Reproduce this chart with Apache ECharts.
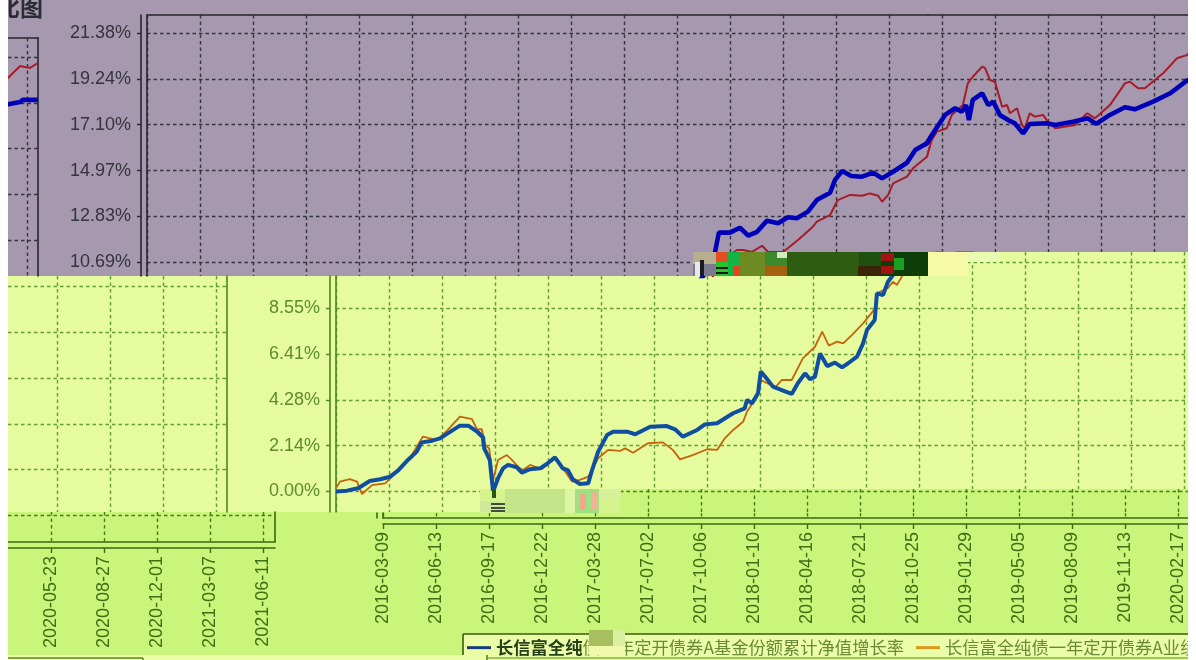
<!DOCTYPE html>
<html><head><meta charset="utf-8">
<style>html,body{margin:0;padding:0;background:#fff}#c{width:1196px;height:660px}</style>
<script src="https://cdn.jsdelivr.net/npm/echarts@6/dist/echarts.min.js"></script>
</head><body><div id="c"></div>
<script>
const netName = '长信富全纯债一年定开债券A基金份额累计净值增长率';
const benchName = '长信富全纯债一年定开债券A业绩比较基准累计收益率';
const tickLabels = ['2016-03-09','2016-06-13','2016-09-17','2016-12-22','2017-03-28','2017-07-02','2017-10-06','2018-01-10','2018-04-16','2018-07-21','2018-10-25','2019-01-29','2019-05-05','2019-08-09','2019-11-13','2020-02-17','2020-05-23','2020-08-27','2020-12-01','2021-03-07','2021-06-11'];
const yTicks = [0,2.138,4.276,6.414,8.552,10.69,12.828,14.966,17.104,19.242,21.38];
const netDays = [0,20,40,61,80,98,112,130,146,155,174,188,202,224,239,255,266,268,278,284,293,302,311,327,336,351,369,381,396,410,419,428,441,456,463,474,490,501,526,541,568,598,613,627,653,667,689,718,739,743,752,763,768,776,790,806,824,835,848,857,866,875,888,902,915,926,942,953,960,974,978,989,998,1023,1034,1054,1072,1087,1103,1121,1141,1159,1175,1195,1211,1235,1244,1257,1273,1293,1313,1329,1349,1374,1389,1410,1425,1443,1461,1473,1481,1486,1493,1510,1521,1530,1542,1557,1569,1584,1596,1627,1642,1674,1701,1716,1741,1768,1786,1819,1850,1880,1904,1909,1936];
const netRate = [0,.04,.15,.49,.57,.69,.97,1.47,1.86,2.29,2.37,2.48,2.71,3.07,3.07,2.79,2.53,2.01,1.47,0,.62,1.08,1.24,1.13,.88,1.04,1.08,1.28,1.59,1.08,1,.57,.35,.38,1,1.86,2.63,2.79,2.79,2.67,3.02,3.05,2.9,2.56,2.87,3.13,3.18,3.65,3.88,4.27,4.11,4.58,5.59,5.35,4.89,4.73,4.55,5.05,5.51,5.23,5.35,6.44,5.85,6.01,5.79,5.98,6.29,6.91,7.53,8,9.24,9.16,9.78,10.65,12.07,12.07,12.3,11.93,12.11,12.63,12.51,12.79,12.74,13.05,13.59,13.93,14.53,14.95,14.71,14.68,14.87,14.6,14.91,15.33,15.92,16.24,16.86,17.56,17.87,17.71,18.02,17.32,18.26,18.57,18.02,18.18,17.56,17.32,17.17,16.7,17.14,17.17,17.09,17.24,17.4,17.14,17.56,17.92,17.82,18.18,18.57,19.16,19.28,19.38,19.38];
const benchDays = [0,7,25,38,47,65,89,107,121,137,157,183,202,224,246,255,264,269,277,284,293,309,318,329,338,351,372,396,410,427,441,456,474,492,513,523,537,564,591,609,622,645,671,689,703,718,736,743,763,768,794,806,824,844,866,879,891,906,917,933,953,975,978,998,1007,1014,1023,1045,1067,1078,1094,1112,1123,1150,1177,1204,1211,1235,1249,1271,1293,1307,1322,1329,1340,1349,1374,1385,1410,1419,1428,1446,1455,1475,1484,1493,1510,1515,1524,1533,1546,1555,1560,1573,1582,1587,1596,1605,1620,1629,1642,1678,1700,1714,1741,1768,1777,1792,1804,1837,1862,1880,1904,1922,1936];
const benchRate = [.15,.46,.58,.46,-.12,.3,.38,.85,1.24,1.7,2.56,2.4,2.87,3.49,3.37,2.9,2.9,2.17,2.01,.54,1.47,1.7,1.47,1.16,1,1.24,1.03,1.59,1.08,.46,.54,.69,1.55,1.94,1.89,2.01,1.81,2.25,2.29,1.94,1.5,1.7,1.97,1.94,2.48,2.87,3.25,3.72,4.5,5.2,4.86,5.2,5.2,6.21,6.75,7.45,6.8,6.99,6.91,7.3,7.84,8.54,9.24,9.49,9.78,9.63,10.02,10.9,11.26,11.26,11.17,11.46,11.17,11.17,11.73,12.35,12.58,12.89,13.59,13.83,13.79,13.9,13.79,13.51,13.83,14.37,14.68,15.07,15.61,16.39,16.78,16.94,17.56,18.02,19.03,19.34,19.81,19.75,19.19,19.11,17.94,18.02,17.64,17.87,17.09,16.95,17.64,17.48,17.56,17.24,16.94,17.09,17.64,17.4,18.02,19.03,19.11,18.8,18.8,19.5,20.2,20.35,20.96,20.87,21.1];

const pxPerDay = 0.5531, tickStep = 53 / pxPerDay, pxPerPct = 21.445, zeroY = 491.5;
const FONT = '"Liberation Sans",Arial,sans-serif';
const STY = {
  P:{grid:'#34343c',axis:'#26262c',text:'#34343c',net:'#0000b8',netW:4.6,bench:'#a81a28',benchW:2},
  Y:{grid:'#659e36',axis:'#4f8222',text:'#5c8c2e',net:'#104ea2',netW:4,bench:'#c8620c',benchW:1.8},
  G:{grid:'#4a7d18',axis:'#3c6a10',text:'#3f6e14',net:'#104ea2',netW:4,bench:'#c8620c',benchW:1.8}
};
const grids=[],xAxes=[],yAxes=[],series=[];
const zip=(a,b)=>a.map((v,i)=>[v,b[i]]);
function lineOnly(extra,color){return Object.assign({axisLine:{show:true,onZero:false,lineStyle:{color,width:1.6}},axisTick:{show:false},axisLabel:{show:false},splitLine:{show:false}},extra);}
function pane(o){
  const s=STY[o.s],g=grids.length,dy=o.dy||0;
  grids.push({left:o.x0,top:o.y0,width:o.x1-o.x0,height:o.y1-o.y0,show:false});
  const xmin=(o.x0-o.L)/pxPerDay,xmax=(o.x1-o.L)/pxPerDay;
  const ymax=(zeroY+dy-o.y0)/pxPerPct,ymin=(zeroY+dy-o.y1)/pxPerPct;
  const xv=tickLabels.map((_,i)=>i*tickStep).filter(v=>v>=xmin-0.01&&v<=xmax+0.01);
  const yv=yTicks.filter(v=>v>=ymin&&v<=ymax);
  const dash={type:[3.5,3],width:1.4,color:s.grid};
  const xa=[{gridIndex:g,type:'value',min:xmin,max:xmax,position:'bottom',offset:o.xLabels?6:0,
    axisLine:{show:!!o.xLabels,onZero:false,lineStyle:{color:s.axis,width:1.6}},
    axisTick:{show:!!o.xLabels,length:5,inside:false,customValues:xv,lineStyle:{color:s.axis,width:1.4}},
    axisLabel:{show:!!o.xLabels,customValues:xv,rotate:90,margin:8,fontSize:18,fontFamily:FONT,color:s.text,hideOverlap:false,
      formatter:v=>tickLabels[Math.round(v/tickStep)]},
    splitLine:{show:xv.length>0,lineStyle:dash}}];
  const ya=[{gridIndex:g,type:'value',min:ymin,max:ymax,position:'left',offset:o.axis?6:0,
    axisLine:{show:!!o.axis,onZero:false,lineStyle:{color:s.axis,width:1.6}},
    axisTick:{show:!!o.axis&&!!yv.length,length:4,customValues:yv,lineStyle:{color:s.axis,width:1.4}},
    axisLabel:{show:!!o.axis&&!!yv.length,customValues:yv,margin:10,padding:[2,0,0,0],fontSize:18,fontFamily:FONT,color:s.text,hideOverlap:false,
      formatter:v=>v.toFixed(2)+'%'},
    splitLine:{show:yv.length>0,lineStyle:dash}}];
  const axisRange={gridIndex:g,type:'value'};
  if(o.top) xa.push(lineOnly(Object.assign({position:'top',min:xmin,max:xmax},axisRange),s.axis));
  if(o.bottom) xa.push(lineOnly(Object.assign({position:'bottom',min:xmin,max:xmax},axisRange),s.axis));
  if(o.left) ya.push(lineOnly(Object.assign({position:'left',min:ymin,max:ymax},axisRange),s.axis));
  if(o.right) ya.push(lineOnly(Object.assign({position:'right',min:ymin,max:ymax},axisRange),s.axis));
  const xi=xAxes.length,yi=yAxes.length;
  xAxes.push(...xa);yAxes.push(...ya);
  const base={type:'line',xAxisIndex:xi,yAxisIndex:yi,symbol:'none',silent:true,animation:false,clip:true};
  series.push(Object.assign({},base,{name:benchName,data:zip(benchDays,benchRate),lineStyle:{color:s.bench,width:s.benchW},itemStyle:{color:s.bench}}));
  series.push(Object.assign({},base,{name:netName,data:zip(netDays,netRate),lineStyle:{color:s.net,width:s.netW},itemStyle:{color:s.net}}));
}
// The picture is a corrupted capture: bands of the one chart appear shifted and wrapped.
pane({s:'P',x0:147,x1:928,y0:15,y1:276,L:147,axis:1,top:1,left:1});
pane({s:'P',x0:928,x1:1188,y0:15,y1:252,L:147,top:1});
pane({s:'P',x0:8,x1:38,y0:38,y1:276,L:-1033,dy:24,top:1,right:1});
pane({s:'Y',x0:336,x1:480,y0:276,y1:512,L:336,axis:1,left:1});
pane({s:'Y',x0:480,x1:928,y0:276,y1:489,L:336});
pane({s:'Y',x0:928,x1:1188,y0:252,y1:489,L:336});
pane({s:'Y',x0:8,x1:227,y0:276,y1:512,L:-844,dy:24,right:1});
pane({s:'G',x0:383,x1:1188,y0:513,y1:518,L:383,xLabels:1,axis:1,left:1,bottom:1});
pane({s:'G',x0:620,x1:1188,y0:489,y1:513,L:383});
pane({s:'G',x0:8,x1:275,y0:512,y1:542,L:-797,dy:24,xLabels:1,bottom:1,right:1});

const r=(x,y,w,h,c,z)=>({type:'rect',silent:true,z:z,shape:{x,y,width:w,height:h},style:{fill:c}});
const l=(x1,y1,x2,y2,c,z,w)=>({type:'line',silent:true,z:z,shape:{x1,y1,x2,y2},style:{stroke:c,lineWidth:w||1.6}});
const PURPLE='#a699af',YEL='#e5fb9e',GRN='#c9f57a',PALE='#ecfda8';
const gfx=[
  // bands
  r(8,0,1180,276,PURPLE,-10), r(928,252,260,24,YEL,-9), r(8,276,1180,236,YEL,-10),
  r(8,512,1180,143,GRN,-10), r(620,489,568,24,GRN,-9), r(480,489,140,24,'#d6f48e',-9),
  r(8,655,1180,5,PALE,-10), r(463,634,725,26,PALE,-9),
  l(463,634,1188,634,'#3c5a10',-8), l(463,634,463,655,'#3c5a10',-8),
  l(8,658,143,658,'#5a8a20',-8), l(143,658,143,660,'#5a8a20',-8), l(487,658,1188,658,'#8ab040',-8), l(487,655,487,660,'#5a8a20',-8),
  // corrupted blocks
  r(693,252,23,12,'#b7ae90',50), r(693,264,23,12,'#7c7890',50), r(695,262,5,14,'#e8e8e8',51), r(700,260,4,16,'#1a1a20',51),
  r(716,252,12,10,'#e64c22',50), r(716,262,12,14,'#26c42a',50), r(716,267,12,2,'#101810',51), r(716,272,12,2,'#101810',51),
  r(728,252,12,24,'#12b444',50), r(733,266,7,10,'#e84020',51),
  r(740,252,25,24,'#6e8a22',50), r(765,252,22,14,'#3c8a2c',50), r(765,266,22,10,'#a4620e',50), r(777,252,10,6,'#d8e8c0',51),
  r(787,252,72,24,'#2e5c10',50), r(859,252,22,14,'#1e5010',50), r(858,266,23,10,'#3a2408',50),
  r(881,252,47,24,'#0e3e08',50), r(881,253,13,8,'#a41212',51), r(881,266,13,8,'#a41212',51), r(894,258,10,12,'#18a020',51),
  r(928,252,40,24,'#f6f9a6',50), r(968,252,32,10,'#e9fbb0',50),
  r(480,501,22,11,'#cfe79a',50), r(491,503,14,2,'#40503a',51), r(491,507,14,2,'#40503a',51), r(491,510,14,2,'#40503a',51), r(492,490,4,8,'#245a10',51),
  r(505,489,60,24,'#c4e48a',50), r(565,489,10,24,'#dcf4a4',50), r(575,489,24,24,'#9fe082',50), r(580,494,6,16,'#f2a88a',51), r(591,491,6,18,'#f0b494',51), r(599,489,22,10,'#d8f09a',50),
  r(589,630,24,16,'#a7bf5e',50), r(589,646,36,9,'#f0f8ac',50), r(613,630,12,16,'#d8f0a0',50),
  // page margins
  r(0,0,8,660,'#ffffff',100), r(1188,0,8,660,'#ffffff',100)
];
const chart=echarts.init(document.getElementById('c'),null,{renderer:'canvas'});
chart.setOption({
  animation:false,backgroundColor:'#ffffff',
  title:{text:'比图',left:-3,top:-4,padding:0,textStyle:{fontSize:23,fontWeight:'bold',color:'#2c2c34',fontFamily:'"Noto Sans CJK SC"'}},
  legend:{left:467,top:639,width:1500,padding:0,itemWidth:24,itemHeight:3,itemGap:12,selectedMode:false,
    data:[{name:netName,icon:'rect',itemStyle:{color:'#1c3c78'}},{name:benchName,icon:'rect',itemStyle:{color:'#dc9a18'}}],
    formatter:n=>n===netName?'{b|'+n.slice(0,5)+'}{n|'+n.slice(5)+'}':'{n|'+n+'}',
    textStyle:{fontSize:17.3,fontFamily:'"Noto Sans CJK SC"',rich:{
      b:{fontSize:17.3,fontWeight:'bold',color:'#26401a',fontFamily:'"Noto Sans CJK SC"'},
      n:{fontSize:17.3,color:'#6a8a38',fontFamily:'"Noto Sans CJK SC"'}}}},
  grid:grids,xAxis:xAxes,yAxis:yAxes,series:series,graphic:{elements:gfx}
});
</script></body></html>
